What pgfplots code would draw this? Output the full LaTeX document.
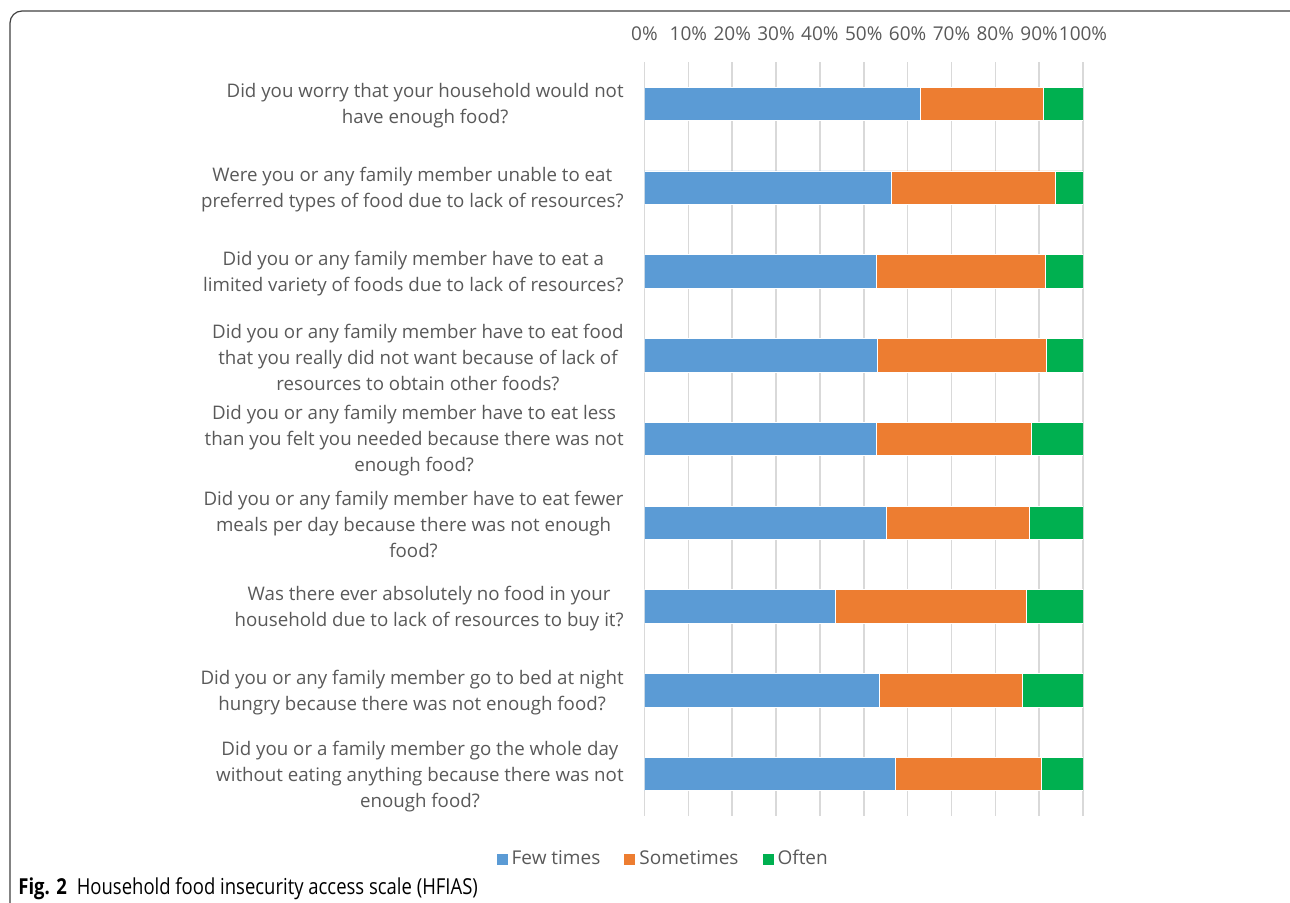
\documentclass[border=0pt]{standalone}
\usepackage{pgfplots}
\pgfplotsset{compat=1.18}
\usepackage{fontspec}
\setmainfont{Open Sans}
\newfontfamily\capfont[FakeStretch=0.84]{Open Sans}
\definecolor{cblue}{HTML}{5B9BD5}
\definecolor{corange}{HTML}{ED7D31}
\definecolor{cgreen}{HTML}{00B050}
\definecolor{ctext}{HTML}{595959}
\definecolor{cgrid}{HTML}{D9D9D9}
\begin{document}
\begin{tikzpicture}
\useasboundingbox (0,0) rectangle (645pt,451pt);
\draw[color=black!75, line width=0.6pt, rounded corners=6pt] (5pt,-5pt) -- (5pt,445.5pt) -- (652pt,445.5pt);
\begin{axis}[
  at={(322.25pt,43pt)}, anchor=south west,
  scale only axis, width=219.25pt, height=377pt,
  xbar stacked, bar width=16.75pt,
  xmin=0, xmax=100, ymin=-0.5, ymax=8.5, y dir=reverse,
  ytick={0,1,2,3,4,5,6,7,8},
  yticklabels={
    {Did you worry that your household would not\\have enough food?},
    {Were you or any family member unable to eat\\preferred types of food due to lack of resources?},
    {Did you or any family member have to eat a\\limited variety of foods due to lack of resources?},
    {Did you or any family member have to eat food\\that you really did not want because of lack of\\resources to obtain other foods?},
    {Did you or any family member have to eat less\\than you felt you needed because there was not\\enough food?},
    {Did you or any family member have to eat fewer\\meals per day because there was not enough\\food?},
    {Was there ever absolutely no food in your\\household due to lack of resources to buy it?},
    {Did you or any family member go to bed at night\\hungry because there was not enough food?},
    {Did you or a family member go the whole day\\without eating anything because there was not\\enough food?}
  },
  xtick={0,10,20,30,40,50,60,70,80,90,100},
  xticklabels={0\%,10\%,20\%,30\%,40\%,50\%,60\%,70\%,80\%,90\%,100\%},
  xticklabel pos=upper,
  axis line style={draw=none},
  tick style={draw=none},
  xmajorgrids, grid style={cgrid, line width=0.8pt},
  yticklabel style={align=center, font=\fontsize{9.35}{13}\selectfont, text=ctext, inner sep=0pt, xshift=-10.25pt, yshift=-1pt},
  xticklabel style={font=\fontsize{9.5}{11}\selectfont, text=ctext, anchor=base, inner sep=0pt, yshift=10.75pt},
  legend columns=3,
  legend style={draw=none, fill=none, at={(0.045,-0.057)}, anchor=center,
    font=\fontsize{9.5}{11}\selectfont, text=ctext,
    /tikz/every even column/.style={column sep=10pt}},
  legend image code/.code={\fill[#1,draw=none] (0pt,-2.75pt) rectangle (5.5pt,2.75pt);},
]
\addplot[fill=cblue, draw=white, line width=0.4pt] coordinates {(63.0,0) (56.4,1) (52.8,2) (53.1,3) (52.9,4) (55.1,5) (43.6,6) (53.5,7) (57.2,8)};
\addplot[fill=corange, draw=white, line width=0.4pt] coordinates {(27.9,0) (37.2,1) (38.6,2) (38.6,3) (35.4,4) (32.7,5) (43.6,6) (32.6,7) (33.4,8)};
\addplot[fill=cgreen, draw=white, line width=0.4pt] coordinates {(9.1,0) (6.4,1) (8.6,2) (8.3,3) (11.7,4) (12.2,5) (12.8,6) (13.9,7) (9.4,8)};
\legend{Few times, Sometimes, Often}
\end{axis}
\node[anchor=base west, inner sep=0pt, font=\fontsize{11}{13}\selectfont] at (9pt,4pt) {\capfont\textbf{Fig. 2}\hspace{5pt}Household food insecurity access scale (HFIAS)};
\end{tikzpicture}
\end{document}
